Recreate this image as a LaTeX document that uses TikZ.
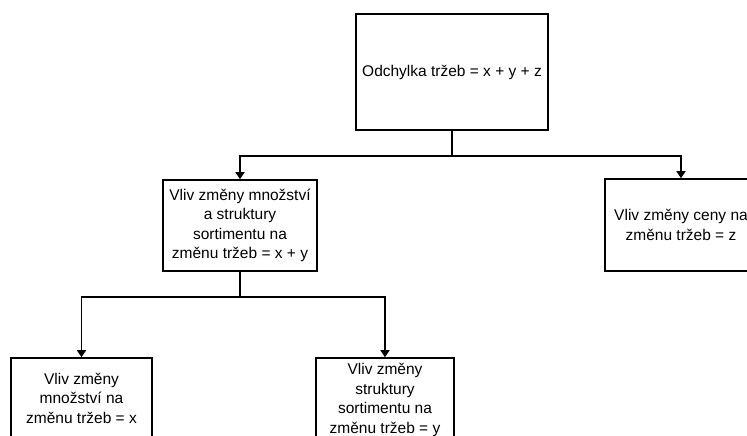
\documentclass[tikz,border=0pt]{standalone}
\usepackage{fontspec}
\setmainfont{Liberation Sans}
\usetikzlibrary{arrows.meta}

\tikzset{
  box/.style={draw, line width=1.6pt, align=center, inner sep=2pt,
    font=\fontsize{15.5}{19.5}\selectfont},
  link/.style={line width=1.6pt, -{Triangle[length=7pt,width=9pt]}}
}

\begin{document}
\begin{tikzpicture}[x=1pt,y=-1pt]
\clip (0,0) rectangle (747,436);
\fill[white] (0,0) rectangle (747,436);
% boxes
\node[box, minimum width=192pt, minimum height=116pt] (total) at (452,72) {Odchylka tržeb = x + y + z};
\node[box, minimum width=154pt, minimum height=91pt] (volume) at (240,225.5) {Vliv změny množství\\a struktury\\sortimentu na\\změnu tržeb = x + y};
\node[box, minimum width=152pt, minimum height=92pt] (price) at (681,225) {Vliv změny ceny na\\změnu tržeb = z};
\node[box, minimum width=141pt, minimum height=80pt] (amount) at (81.5,398) {Vliv změny\\množství na\\změnu tržeb = x};
\node[box, minimum width=138pt, minimum height=84pt] (mix) at (385,400) {Vliv změny\\struktury\\sortimentu na\\změnu tržeb = y};
% connectors
\coordinate (split1) at (total.south |- 0,156);
\coordinate (split2) at (volume.south |- 0,297);
\draw[link] (total.south) -- (split1) -| (volume.north);
\draw[link] (split1) -| (price.north);
\draw[link] (volume.south) -- (split2) -| (amount.north);
\draw[link] (split2) -| (mix.north);
\end{tikzpicture}
\end{document}
